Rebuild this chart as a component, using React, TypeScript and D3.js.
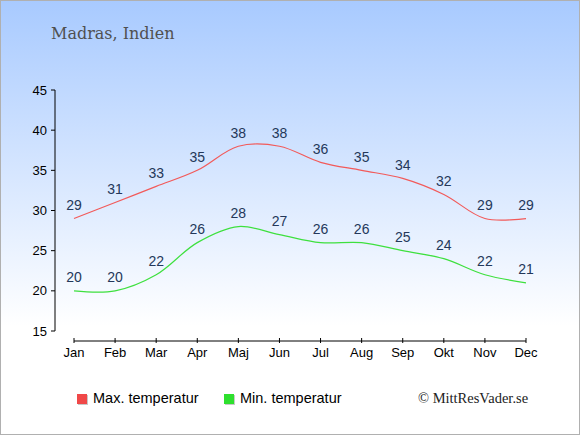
import React, { useEffect, useRef } from "react";
import * as d3 from "d3";

const months = ["Jan", "Feb", "Mar", "Apr", "Maj", "Jun", "Jul", "Aug", "Sep", "Okt", "Nov", "Dec"];
const maxTemp = [29, 31, 33, 35, 38, 38, 36, 35, 34, 32, 29, 29];
const minTemp = [20, 20, 22, 26, 28, 27, 26, 26, 25, 24, 22, 21];
const yTicks = [15, 20, 25, 30, 35, 40, 45];

const W = 580;
const H = 435;

export default function App() {
  const ref = useRef<SVGSVGElement>(null);

  useEffect(() => {
    const root = d3.select(ref.current);
    root.selectAll("*").remove();
    root.attr("width", W).attr("height", H);

    // background gradient
    const defs = root.append("defs");
    const grad = defs
      .append("linearGradient")
      .attr("id", "bg")
      .attr("x1", 0)
      .attr("y1", 0)
      .attr("x2", 0)
      .attr("y2", 1);
    grad.append("stop").attr("offset", "0%").attr("stop-color", "#a8caff");
    grad.append("stop").attr("offset", "75%").attr("stop-color", "#ffffff");
    grad.append("stop").attr("offset", "100%").attr("stop-color", "#ffffff");

    root
      .append("rect")
      .attr("x", 0.5)
      .attr("y", 0.5)
      .attr("width", W - 1)
      .attr("height", H - 1)
      .attr("fill", "url(#bg)")
      .attr("stroke", "#b0b0b0");

    root
      .append("text")
      .attr("x", 51)
      .attr("y", 38.5)
      .style("font-family", "DejaVu Serif")
      .style("font-size", "16px")
      .attr("fill", "#505050")
      .text("Madras, Indien");

    const x = d3.scalePoint<string>().domain(months).range([74, 526]);
    const y = d3.scaleLinear().domain([15, 45]).range([331, 90]);

    // y axis
    const yAxis = root.append("g").attr("transform", "translate(55,0)");
    yAxis
      .append("line")
      .attr("x1", 0)
      .attr("x2", 0)
      .attr("y1", y(45))
      .attr("y2", y(15))
      .attr("stroke", "#000");
    yAxis
      .selectAll(".yt")
      .data(yTicks)
      .enter()
      .append("line")
      .attr("x1", -4)
      .attr("x2", 0)
      .attr("y1", (d) => y(d))
      .attr("y2", (d) => y(d))
      .attr("stroke", "#000");
    yAxis
      .selectAll(".yl")
      .data(yTicks)
      .enter()
      .append("text")
      .attr("x", -8)
      .attr("y", (d) => y(d) + 4.5)
      .attr("text-anchor", "end")
      .style("font-family", "Liberation Sans, Arial, sans-serif")
      .style("font-size", "13px")
      .attr("fill", "#000")
      .text((d) => d);

    // x axis
    const xAxis = root.append("g").attr("transform", "translate(0,341)");
    xAxis
      .append("line")
      .attr("x1", x("Jan")!)
      .attr("x2", x("Dec")!)
      .attr("y1", 0)
      .attr("y2", 0)
      .attr("stroke", "#000");
    xAxis
      .selectAll(".xt")
      .data(months)
      .enter()
      .append("line")
      .attr("x1", (d) => x(d)!)
      .attr("x2", (d) => x(d)!)
      .attr("y1", -3)
      .attr("y2", 2)
      .attr("stroke", "#000");
    xAxis
      .selectAll(".xl")
      .data(months)
      .enter()
      .append("text")
      .attr("x", (d) => x(d)!)
      .attr("y", 16)
      .attr("text-anchor", "middle")
      .style("font-family", "Liberation Sans, Arial, sans-serif")
      .style("font-size", "13px")
      .attr("fill", "#000")
      .text((d) => d);

    const line = d3
      .line<number>()
      .x((_, i) => x(months[i])!)
      .y((d) => y(d))
      .curve(d3.curveCatmullRom.alpha(0.5));

    const series = [
      { values: maxTemp, color: "#f25a5a", name: "Max. temperatur", box: "#f04848" },
      { values: minTemp, color: "#3ee03e", name: "Min. temperatur", box: "#2ee02e" },
    ];

    series.forEach((s) => {
      root
        .append("path")
        .datum(s.values)
        .attr("fill", "none")
        .attr("stroke", s.color)
        .attr("stroke-width", 1.2)
        .attr("d", line);

      root
        .append("g")
        .selectAll("text")
        .data(s.values)
        .enter()
        .append("text")
        .attr("x", (_, i) => x(months[i])!)
        .attr("y", (d) => y(d) - 8.5)
        .attr("text-anchor", "middle")
        .style("font-family", "Liberation Sans, Arial, sans-serif")
        .style("font-size", "14px")
        .attr("fill", "#24385a")
        .text((d) => d);
    });

    // legend
    const legendX = [77, 224];
    series.forEach((s, i) => {
      root
        .append("rect")
        .attr("x", legendX[i] + 1)
        .attr("y", 395)
        .attr("width", 10)
        .attr("height", 10)
        .attr("fill", "#c8c8c8");
      root
        .append("rect")
        .attr("x", legendX[i])
        .attr("y", 394)
        .attr("width", 10)
        .attr("height", 10)
        .attr("fill", s.box);
      root
        .append("text")
        .attr("x", legendX[i] + 16)
        .attr("y", 403)
        .style("font-family", "Liberation Sans, Arial, sans-serif")
        .style("font-size", "14.5px")
        .attr("fill", "#000")
        .text(s.name);
    });

    root
      .append("text")
      .attr("x", 418)
      .attr("y", 403)
      .style("font-family", "Liberation Serif, serif")
      .style("font-size", "14.5px")
      .attr("fill", "#222")
      .text("© MittResVader.se");
  }, []);

  return (
    <div style={{ position: "fixed", left: 0, top: 0 }}>
      <svg ref={ref} style={{ display: "block" }}></svg>
    </div>
  );
}
